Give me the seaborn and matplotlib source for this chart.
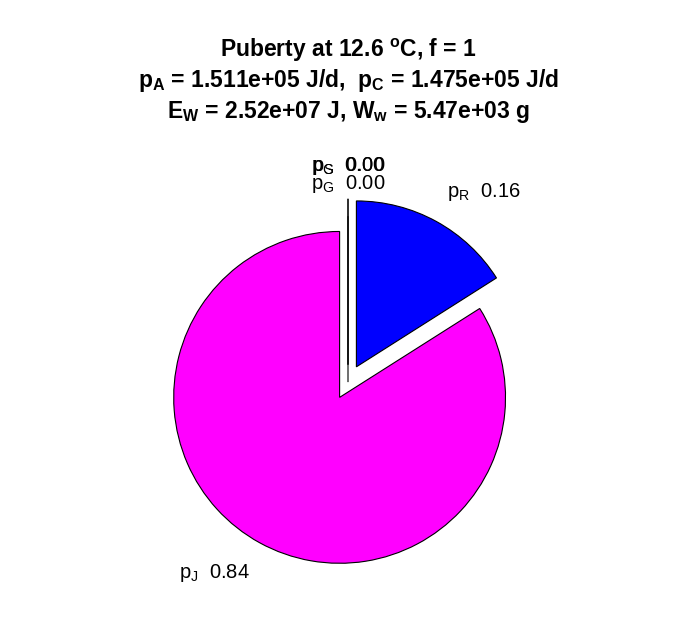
import numpy as np
import matplotlib
matplotlib.use("Agg")
import matplotlib.pyplot as plt
import seaborn as sns

# fractions of p_A going to each flux
names = ["p_J", "p_R", "p_S", "p_G", "p_G"]
fractions = [0.84, 0.16, 0.00, 0.00, 0.00]
explode = [0.105, 0.105, 0.105, 0.105, 0.0]
colors = ["#FF00FF", "#0000FF", "#FFFFFF", "#FFFFFF", "#FFFFFF"]

title_lines = [
    r"Puberty at 12.6 $^\mathbf{o}$C, f = 1",
    r"$\mathbf{p_A}$ = 1.511e+05 J/d,  $\mathbf{p_C}$ = 1.475e+05 J/d",
    r"$\mathbf{E_W}$ = 2.52e+07 J, $\mathbf{W_w}$ = 5.47e+03 g",
]

sns.set_theme(style="white")
plt.rcParams["font.family"] = ["Liberation Sans", "DejaVu Sans"]
plt.rcParams["text.color"] = "black"
plt.rcParams["mathtext.fontset"] = "custom"
plt.rcParams["mathtext.rm"] = "Liberation Sans"
plt.rcParams["mathtext.bf"] = "Liberation Sans:bold"
plt.rcParams["mathtext.it"] = "Liberation Sans:italic"

fig = plt.figure(figsize=(6.96, 6.18), dpi=100)
fig.patch.set_facecolor("white")
ax = fig.add_axes([0.19, 0.0327, 0.620, 0.698])

wedges, _ = ax.pie(fractions, explode=explode, colors=colors, startangle=90,
                   counterclock=True, radius=1.0,
                   wedgeprops=dict(edgecolor="black", linewidth=0.8))
ax.set_xlim(-1.3, 1.3)
ax.set_ylim(-1.3, 1.3)
ax.set_aspect("equal")
ax.axis("off")

for w, name, frac, ex in zip(wedges, names, fractions, explode):
    ang = np.deg2rad((w.theta1 + w.theta2) / 2)
    r = 1.13 + ex
    x, y = r * np.cos(ang), r * np.sin(ang)
    if abs(np.cos(ang)) < 0.1:
        ha = "center"
    elif np.cos(ang) > 0:
        ha = "left"
    else:
        ha = "right"
    va = "bottom" if np.sin(ang) > 0 else "top"
    sub = name.split("_")[1]
    ax.text(x, y, r"$\mathrm{p_{%s}}$  %.2f" % (sub, frac), ha=ha, va=va,
            fontsize=14.5, color="black")

for i, line in enumerate(title_lines):
    fig.text(0.5, 1 - (50 + 31 * i) / 618, line, ha="center", va="center",
             fontsize=16.5, fontweight="bold", color="black")

fig.savefig("out.png", dpi=100)
